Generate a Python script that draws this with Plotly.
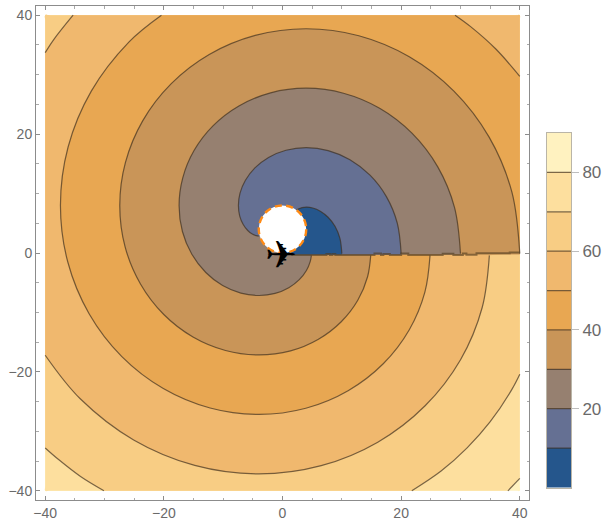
import plotly.graph_objects as go

# Level-curve positions (data units), one x and y list per level.
# Hand-regularised so the spiral arcs stay smooth rather than carrying pixel-reading noise.
c10_x = [10.0, 9.68, 8.85, 7.68, 6.37, 5.10, 4.0, 2.65, 2.39]
c10_y = [-0.1, 2.46, 4.49, 6.02, 7.03, 7.57, 7.72, 7.40, 7.21]
c20_x = [20.0, 19.34, 17.51, 14.75, 11.37, 7.69, 4.0, 0.58, -2.35, -4.65, -6.25, -7.16, -7.43, -7.21, -6.62, -5.86, -5.09, -4.43, -4.0]
c20_y = [-0.1, 5.05, 9.49, 13.09, 15.69, 17.23, 17.72, 17.28, 16.07, 14.31, 12.23, 10.06, 8.0, 6.21, 4.79, 3.79, 3.19, 2.91, 2.85]
c30_x = [30.0, 29.0, 26.17, 21.82, 16.37, 10.28, 4.0, -2.01, -7.35, -11.72, -14.91, -16.81, -17.43, -16.87, -15.28, -12.93, -10.09, -7.02, -4.0, -1.25, 1.06, 2.83, 4.03, 4.68, 4.87]
c30_y = [-0.1, 7.64, 14.49, 20.16, 24.35, 26.88, 27.72, 26.94, 24.73, 21.38, 17.23, 12.65, 8.0, 3.62, -0.21, -3.28, -5.47, -6.74, -7.15, -6.80, -5.84, -4.49, -2.95, -1.40, -0.4]
c40_x = [40.0, 38.67, 34.83, 28.89, 21.37, 12.87, 4.0, -4.60, -12.35, -18.79, -23.57, -26.47, -27.43, -26.53, -23.94, -20.01, -15.09, -9.61, -4.0, 1.35, 6.06, 9.90, 12.69, 14.34, 14.87]
c40_y = [-0.1, 10.23, 19.49, 27.23, 33.01, 36.54, 37.72, 36.60, 33.39, 28.45, 22.23, 15.24, 8.0, 1.03, -5.21, -10.35, -14.13, -16.40, -17.15, -16.46, -14.50, -11.56, -7.95, -3.99, -0.4]
c50a_x = [29.08, 31.71, 35.96, 40.0]
c50a_y = [40.0, 38.08, 34.31, 29.7]
c50b_x = [24.87, 24.0, 21.35, 16.98, 11.06, 3.93, -4.0, -12.2, -20.09, -27.08, -32.60, -36.18, -37.43, -36.14, -32.23, -25.86, -20.41]
c50b_y = [-0.4, -6.58, -12.95, -18.63, -23.16, -26.11, -27.15, -26.07, -22.79, -17.42, -10.21, -1.56, 8.0, 17.83, 27.23, 35.52, 40.0]
c60a_x = [-40.0, -38.56, -35.3]
c60a_y = [33.7, 35.9, 40.0]
c60b_x = [34.87, 33.66, 30.01, 24.04, 16.06, 6.52, -4.0, -14.79, -25.09, -34.14, -40.0]
c60b_y = [-0.4, -9.17, -17.95, -25.70, -31.82, -35.77, -37.15, -35.73, -31.45, -24.48, -17.2]
c70a_x = [-40.0, -37.74, -34.04, -30.1]
c70a_y = [-32.8, -34.75, -37.6, -40.0]
c70b_x = [21.8, 26.73, 31.12, 34.98, 38.67, 40.0]
c70b_y = [-40.0, -36.68, -32.78, -28.42, -22.94, -20.4]
c80_x = [40.0, 38.0]
c80_y = [-37.9, -40.0]

# Jagged discontinuity along the positive x axis
slit_x = [1.5, 7.4, 7.4, 8.0, 8.0, 8.4, 8.4, 8.9, 8.9, 15.5, 15.5, 16.6, 16.6, 17.0, 17.0, 18.1, 18.1, 20.0, 20.0, 21.2, 21.2,
          27.0, 27.0, 28.8, 28.8, 30.4, 30.4, 31.0, 31.0, 32.7, 32.7, 38.3, 38.3, 40.0]
slit_y = [-0.32, -0.32, -0.15, -0.15, -0.35, -0.35, -0.15, -0.15, -0.35, -0.35, -0.1, -0.1, -0.35, -0.35, -0.15, -0.15, -0.35, -0.35, -0.1,
          -0.1, -0.32, -0.32, -0.12, -0.12, -0.32, -0.32, -0.1, -0.1, -0.3, -0.3, -0.05, -0.05, 0.1, 0.1]
slit_level = -0.25

levels = [10, 20, 30, 40, 50, 60, 70, 80, 90]
band_colors = ["#25568C", "#657093", "#968070", "#C99558", "#E8A752", "#F0B86E", "#F8CD84", "#FDDF9E", "#FFF2C0"]
cbar_ticks = [20, 40, 60, 80]
axis_ticks = [-40, -20, 0, 20, 40]
extent = 40.0

LINE = "rgba(60,45,30,0.68)"
FRAME = "#8c8c8c"
TXT = "#6a6a6a"


def fill(color, *segments):
    """Closed band outline: runs are smooth, and every run end or lone point stays a sharp corner."""
    pts = []
    for sx, sy in segments:
        for i, (x, y) in enumerate(zip(sx, sy)):
            pts.append((x, y, i == 0 or i == len(sx) - 1))
    xs, ys = [], []
    n = len(pts)
    f = 0.01
    for i, (x, y, corner) in enumerate(pts):
        if corner:
            px, py, _ = pts[i - 1]
            nx, ny, _ = pts[(i + 1) % n]
            xs += [x + f * (px - x), x, x + f * (nx - x)]
            ys += [y + f * (py - y), y, y + f * (ny - y)]
        else:
            xs.append(x)
            ys.append(y)
    return go.Scatter(x=xs, y=ys, mode="lines", fill="toself", fillcolor=color,
                      line=dict(width=0, shape="spline", smoothing=1, simplify=False),
                      hoverinfo="skip", showlegend=False)


def curve(xs, ys):
    return go.Scatter(x=xs, y=ys, mode="lines", line=dict(color=LINE, width=1.2, shape="spline", smoothing=1),
                      hoverinfo="skip", showlegend=False)


def pt(x, y):
    return [x], [y]


fig = go.Figure()
e = extent
s = slit_level
# Painted from the highest band down to the lowest
fig.add_trace(fill(band_colors[8], pt(-e, -e), pt(e, -e), pt(e, e), pt(-e, e)))
fig.add_trace(fill(band_colors[7], (c80_x, c80_y), pt(-e, -e), pt(-e, e), pt(e, e)))
fig.add_trace(fill(band_colors[6], (c70a_x, c70a_y), (c70b_x, c70b_y), pt(e, e), pt(-e, e)))
fig.add_trace(fill(band_colors[5], (c60a_x, c60a_y), pt(e, e), pt(e, 0.1), (c60b_x, c60b_y)))
fig.add_trace(fill(band_colors[4], (c50a_x, c50a_y), pt(e, 0.1), (c50b_x, c50b_y)))
fig.add_trace(fill(band_colors[3], (c40_x, c40_y), pt(c40_x[-1], s), pt(e, s)))
fig.add_trace(fill(band_colors[2], (c30_x, c30_y), pt(c30_x[-1], s), pt(c30_x[0], s)))
fig.add_trace(fill(band_colors[1], (c20_x, c20_y), pt(0.0, 4.0), pt(0.6, s), pt(c20_x[0], s)))
fig.add_trace(fill(band_colors[0], (c10_x, c10_y), pt(0.0, 4.0), pt(0.6, s), pt(c10_x[0], s)))

for cx, cy in [(c10_x, c10_y), (c20_x, c20_y), (c30_x, c30_y), (c40_x, c40_y), (c50a_x, c50a_y), (c50b_x, c50b_y),
               (c60a_x, c60a_y), (c60b_x, c60b_y), (c70a_x, c70a_y), (c70b_x, c70b_y), (c80_x, c80_y)]:
    fig.add_trace(curve(cx, cy))
fig.add_trace(go.Scatter(x=slit_x, y=slit_y, mode="lines", line=dict(color="rgba(80,60,30,0.62)", width=2),
                         hoverinfo="skip", showlegend=False))

# Colour bar
prev = 0
for lv, col in zip(levels, band_colors):
    fig.add_trace(go.Bar(x=[0], y=[lv - prev], base=[prev], width=[1], marker=dict(color=col, line=dict(width=0)),
                         xaxis="x2", yaxis="y2", hoverinfo="skip", showlegend=False))
    prev = lv
for lv in levels[:-1]:
    fig.add_trace(go.Scatter(x=[-0.5, 0.5], y=[lv, lv], mode="lines", line=dict(color=LINE, width=1.2),
                             xaxis="x2", yaxis="y2", hoverinfo="skip", showlegend=False))

axis_common = dict(showgrid=False, zeroline=False, showline=True, linecolor=FRAME, linewidth=1, mirror="ticks",
                   ticks="inside", ticklen=4, tickcolor=FRAME, tickmode="array", tickvals=axis_ticks,
                   tickfont=dict(family="Liberation Sans", size=14, color=TXT), range=[-41.55, 41.55],
                   minor=dict(ticks="inside", ticklen=2.5, tickcolor="#aaaaaa", dtick=5, tick0=0, showgrid=False))

fig.update_layout(
    width=605, height=522, autosize=False, showlegend=False,
    margin=dict(l=36, r=0, t=6, b=22, pad=0),
    paper_bgcolor="white", plot_bgcolor="white", barmode="overlay", bargap=0,
    xaxis=dict(domain=[0, 493 / 569], **axis_common),
    yaxis=dict(domain=[0, 1], **axis_common),
    xaxis2=dict(domain=[511 / 569, 535 / 569], anchor="y2", range=[-0.5, 0.5], showticklabels=False, ticks="",
                showgrid=False, zeroline=False, showline=True, linecolor="rgba(130,120,95,0.55)", mirror=True),
    yaxis2=dict(domain=[12.5 / 494, 367 / 494], anchor="x2", side="right", range=[0, 90], tickmode="array",
                tickvals=cbar_ticks, ticks="outside", ticklen=7, tickcolor="#bdbdbd", showgrid=False, zeroline=False,
                showline=True, linecolor="rgba(130,120,95,0.55)", mirror=True,
                tickfont=dict(family="Liberation Sans", size=17, color=TXT)),
    shapes=[dict(type="circle", xref="x", yref="y", x0=-4, y0=0, x1=4, y1=8, fillcolor="white",
                 line=dict(color="#FF8A14", width=2.4, dash="7px,4.5px"), layer="above")],
    annotations=[dict(x=-0.2, y=-0.4, xref="x", yref="y", text="\u2708", showarrow=False, xanchor="center", yanchor="middle",
                      font=dict(family="DejaVu Sans", size=38, color="black"))],
)
fig.write_html("out.html", post_script="document.body.style.margin='0';", config={"displayModeBar": False})
